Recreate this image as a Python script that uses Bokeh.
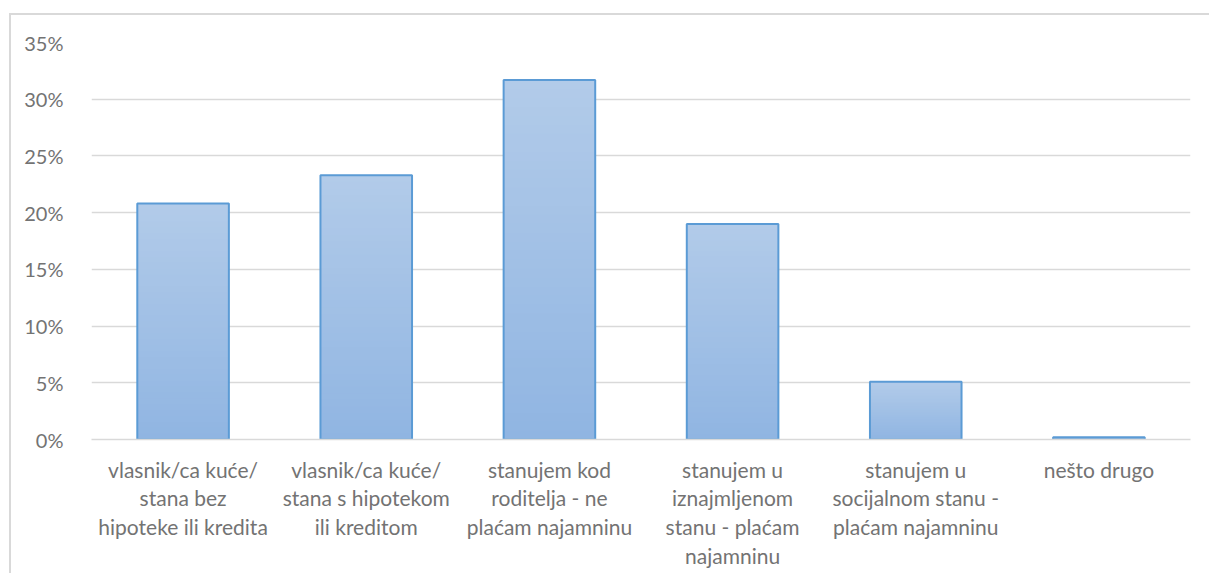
from bokeh.plotting import figure
from bokeh.models import Range1d, FactorRange, ColumnDataSource, CustomJSTickFormatter
from bokeh.embed import file_html
from bokeh.resources import INLINE

categories = [
    "vlasnik/ca kuće/\nstana bez\nhipoteke ili kredita",
    "vlasnik/ca kuće/\nstana s hipotekom\nili kreditom",
    "stanujem kod\nroditelja - ne\nplaćam najamninu",
    "stanujem u\niznajmljenom\nstanu - plaćam\nnajamninu",
    "stanujem u\nsocijalnom stanu -\nplaćam najamninu",
    "nešto drugo",
]
values = [20.8, 23.3, 31.7, 19.0, 5.1, 0.2]
y_ticks = [0, 5, 10, 15, 20, 25, 30, 35]

TOP = (178, 203, 233)
BOT = (144, 181, 226)
N = 40

p = figure(
    x_range=FactorRange(*categories, range_padding=0),
    y_range=Range1d(0, 35),
    width=1200, height=560,
    output_backend="svg", toolbar_location=None,
    min_border_left=80, min_border_right=21, min_border_top=27, min_border_bottom=136,
)
p.styles = {
    "margin-top": "13px", "margin-left": "9px",
    "border-top": "2px solid #d9d9d9", "border-left": "2px solid #d9d9d9",
}
p.outline_line_color = None
p.background_fill_color = "white"
p.border_fill_color = "white"

# gradient slices derived from the bar values
xs, bots, tops, cols = [], [], [], []
for c, v in zip(categories, values):
    for k in range(N):
        f = (k + 0.5) / N
        col = tuple(int(round(BOT[i] + (TOP[i] - BOT[i]) * f)) for i in range(3))
        xs.append(c)
        bots.append(v * k / N)
        tops.append(min(v, v * (k + 2) / N))
        cols.append("#%02x%02x%02x" % col)
p.vbar(x=xs, bottom=bots, top=tops, width=0.5, fill_color=cols, line_color=None)

src = ColumnDataSource(dict(x=categories, top=values))
p.vbar(x="x", top="top", bottom=0, width=0.5, source=src,
       fill_alpha=0, line_color="#5b9bd5", line_width=2)

p.xgrid.grid_line_color = None
p.ygrid.grid_line_color = "#d9d9d9"
p.ygrid.grid_line_width = 1.5
p.ygrid.level = "underlay"

p.yaxis.ticker = y_ticks
p.yaxis.formatter = CustomJSTickFormatter(code="return tick + '%'")
p.yaxis.axis_line_color = None
p.yaxis.major_tick_line_color = None
p.yaxis.minor_tick_line_color = None
p.yaxis.major_label_standoff = 22
p.yaxis.major_label_text_font = "Lato"
p.yaxis.major_label_text_font_size = "20px"
p.yaxis.major_label_text_color = "#737373"

p.xaxis.axis_line_color = "#d9d9d9"
p.xaxis.axis_line_width = 1.5
p.xaxis.major_tick_line_color = None
p.xaxis.minor_tick_line_color = None
p.xaxis.major_label_standoff = 11
p.xaxis.major_label_text_font = "Lato"
p.xaxis.major_label_text_font_size = "21px"
p.xaxis.major_label_text_color = "#737373"
p.xaxis.major_label_text_line_height = 1.15

open("out.html", "w").write(file_html(p, INLINE))
